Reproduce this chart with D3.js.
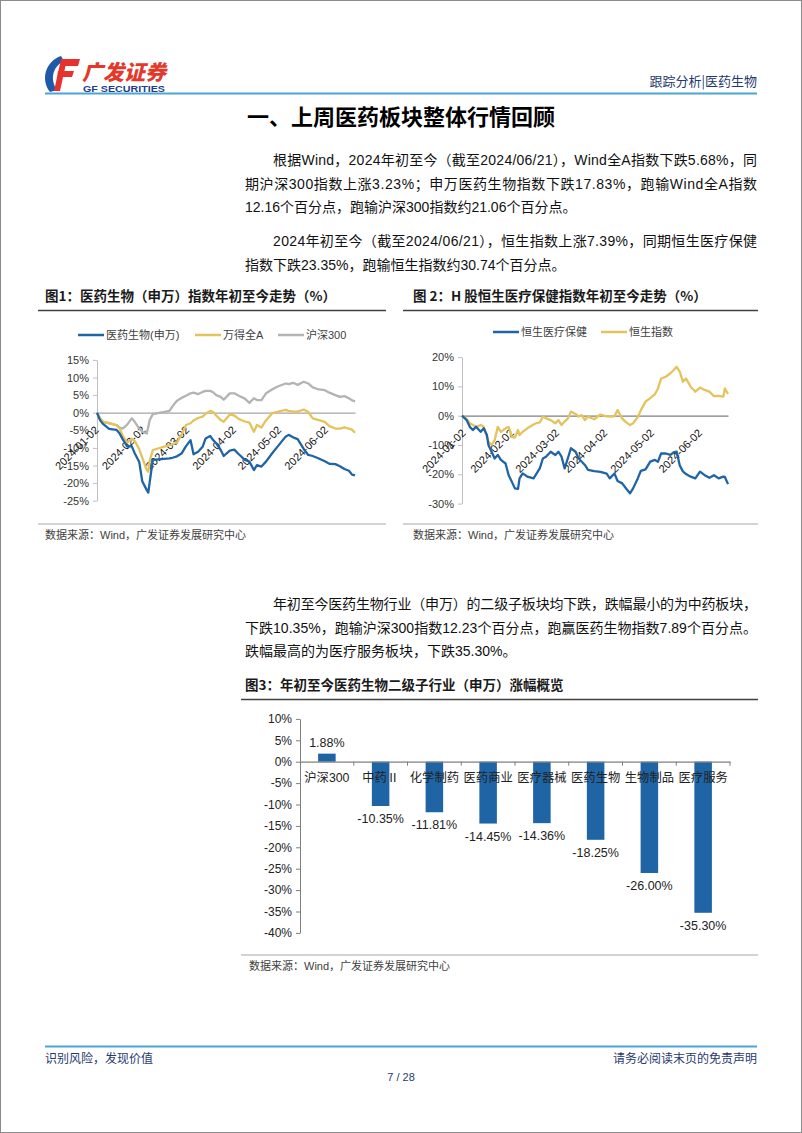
<!DOCTYPE html>
<html><head><meta charset="utf-8">
<script src="https://cdn.jsdelivr.net/npm/d3@7"></script>
<style>body{margin:0;background:#fff}svg{display:block}</style>
</head><body>
<svg id="page" width="802" height="1133"></svg>
<script>
// ---------------- DATA ----------------
// Figure 1: 申万医药生物 / 万得全A / 沪深300, YTD % change
const dates1 = ["2024-01-02","2024-01-04","2024-01-06","2024-01-10","2024-01-15","2024-01-17","2024-01-19","2024-01-22","2024-01-25","2024-01-27",
"2024-01-30","2024-02-01","2024-02-04","2024-02-05","2024-02-06","2024-02-08","2024-02-19","2024-02-21","2024-02-24","2024-02-27",
"2024-03-01","2024-03-04","2024-03-06","2024-03-09","2024-03-12","2024-03-14","2024-03-17","2024-03-19","2024-03-21","2024-03-24",
"2024-03-26","2024-03-30","2024-04-02","2024-04-05","2024-04-09","2024-04-12","2024-04-15","2024-04-17","2024-04-20","2024-04-23",
"2024-04-27","2024-04-30","2024-05-06","2024-05-08","2024-05-11","2024-05-14","2024-05-18","2024-05-21","2024-05-24","2024-05-28",
"2024-06-01","2024-06-04","2024-06-08","2024-06-11","2024-06-14","2024-06-17","2024-06-19","2024-06-21"];
const pharmaSW = [0,-2.1,-3.2,-4.6,-4.9,-5.9,-7.5,-9.6,-9.5,-11.5,
-14.0,-19.5,-22.0,-22.7,-19.5,-13.4,-13.0,-12.8,-12.4,-11.6,
-9.5,-7.8,-11.8,-11.1,-9.7,-7.3,-6.6,-7.8,-8.7,-10.6,
-12.3,-10.8,-10.5,-11.8,-13.4,-13.9,-16.3,-14.9,-15.3,-13.9,
-11.6,-10.0,-6.8,-6.3,-7.0,-7.5,-10.3,-12.0,-12.3,-13.0,
-13.8,-14.5,-14.6,-15.2,-16.0,-16.5,-17.6,-17.83];
const windA = [0,-1.6,-2.6,-2.9,-3.6,-4.5,-6.5,-8.5,-7.4,-8.0,
-10.4,-12.8,-16.3,-16.8,-13.5,-10.6,-9.2,-9.0,-8.5,-6.3,
-3.5,-3.0,-2.2,-1.5,-1.1,-0.3,0.5,0.2,-0.8,-2.1,
-2.6,-0.5,-0.8,-1.8,-2.5,-2.8,-5.4,-3.5,-4.2,-2.2,
-0.2,0.2,0.8,0.5,0.3,0.3,0.9,0.2,-1.6,-2.1,
-2.6,-3.8,-4.5,-4.5,-4.2,-4.5,-4.8,-5.68];
const csi300 = [0,-1.6,-2.6,-3.0,-3.5,-4.2,-4.5,-3.4,-1.6,-2.6,
-4.5,-5.4,-5.9,-4.0,-2.0,-0.4,0.5,1.8,3.4,4.2,
4.8,5.5,5.7,5.3,5.9,6.2,6.2,5.8,5.0,4.5,
3.7,5.5,5.5,4.8,4.0,2.8,4.1,3.6,3.6,5.5,
6.6,7.3,8.3,8.1,8.5,7.9,8.8,8.3,7.2,6.6,
6.4,5.7,5.0,4.5,4.7,4.1,3.5,3.23];
const names1 = ["医药生物(申万)","万得全A","沪深300"];
const yTicks1 = [15,10,5,0,-5,-10,-15,-20,-25];

// Figure 2: 恒生医疗保健 / 恒生指数
const dates2 = ["2024-01-02","2024-01-05","2024-01-07","2024-01-09","2024-01-11","2024-01-14","2024-01-16","2024-01-18","2024-01-19","2024-01-21",
"2024-01-23","2024-01-25","2024-01-27","2024-01-30","2024-02-01","2024-02-03","2024-02-05","2024-02-07","2024-02-08","2024-02-10",
"2024-02-13","2024-02-17","2024-02-19","2024-02-21","2024-02-23","2024-02-25","2024-02-28","2024-03-02","2024-03-04","2024-03-06",
"2024-03-08","2024-03-10","2024-03-12","2024-03-15","2024-03-17","2024-03-19","2024-03-21","2024-03-23","2024-03-27","2024-03-31",
"2024-04-04","2024-04-06","2024-04-09","2024-04-11","2024-04-14","2024-04-16","2024-04-19","2024-04-21","2024-04-24","2024-04-26",
"2024-04-29","2024-05-02","2024-05-05","2024-05-07","2024-05-09","2024-05-12","2024-05-15","2024-05-17","2024-05-19","2024-05-21",
"2024-05-23","2024-05-25","2024-05-28","2024-05-31","2024-06-03","2024-06-06","2024-06-09","2024-06-12","2024-06-15","2024-06-18",
"2024-06-19","2024-06-21"];
const hsHealth = [0,-1.5,-3.8,-4.9,-3.8,-5.5,-4.3,-6.6,-10.0,-12.3,
-14.6,-13.4,-15.1,-16.3,-20.3,-22.5,-24.8,-25.0,-21.4,-19.7,
-20.8,-21.4,-19.7,-18.0,-14.6,-14.0,-12.3,-13.4,-12.3,-14.0,
-18.0,-14.6,-11.1,-12.3,-14.6,-15.7,-16.8,-18.5,-18.9,-19.2,
-19.8,-21.4,-19.7,-22.3,-23.1,-24.5,-26.5,-24.8,-21.4,-18.8,
-18.3,-15.7,-15.1,-15.7,-12.9,-12.9,-13.4,-12.5,-12.3,-17.0,
-19.0,-19.9,-20.8,-21.4,-19.1,-20.3,-21.2,-20.3,-21.4,-20.8,
-20.9,-23.35];
const hsi = [0,-1.1,-2.6,-3.2,-3.8,-3.2,-3.8,-7.2,-8.9,-10.0,
-8.3,-3.8,-5.5,-4.3,-3.8,-7.2,-7.5,-4.9,-6.6,-5.5,
-4.3,-3.0,-2.5,-2.3,-0.3,-0.9,-1.5,-2.6,-1.5,-3.2,
-2.0,-1.0,1.4,0.6,-0.3,0.2,-1.5,-0.3,-1.2,0.4,
-0.2,-0.3,-0.2,1.9,-1.0,-2.0,-3.2,-2.6,-0.5,1.9,
4.8,6.0,7.3,9.3,12.7,13.3,14.5,15.5,16.7,15.0,
11.6,12.7,9.9,8.2,9.6,8.8,8.2,6.7,6.8,6.5,
9.3,7.39];
const names2 = ["恒生医疗保健","恒生指数"];
const yTicks2 = [20,10,0,-10,-20,-30];

const dateTicks = ["2024-01-02","2024-02-02","2024-03-02","2024-04-02","2024-05-02","2024-06-02"];

// Figure 3: 子行业涨幅
const categories3 = ["沪深300","中药Ⅱ","化学制药","医药商业","医疗器械","医药生物","生物制品","医疗服务"];
const values3 = [1.88,-10.35,-11.81,-14.45,-14.36,-18.25,-26.00,-35.30];
const yTicks3 = [10,5,0,-5,-10,-15,-20,-25,-30,-35,-40];

// Text
const para1 = ["根据Wind，2024年初至今（截至2024/06/21），Wind全A指数下跌5.68%，同",
"期沪深300指数上涨3.23%；申万医药生物指数下跌17.83%，跑输Wind全A指数",
"12.16个百分点，跑输沪深300指数约21.06个百分点。"];
const para2 = ["2024年初至今（截至2024/06/21），恒生指数上涨7.39%，同期恒生医疗保健",
"指数下跌23.35%，跑输恒生指数约30.74个百分点。"];
const para3 = ["年初至今医药生物行业（申万）的二级子板块均下跌，跌幅最小的为中药板块，",
"下跌10.35%，跑输沪深300指数12.23个百分点，跑赢医药生物指数7.89个百分点。",
"跌幅最高的为医疗服务板块，下跌35.30%。"];

// ---------------- DRAW ----------------
const FONT = "'Liberation Sans', Arial, 'Noto Sans CJK SC', sans-serif";
const CJK = "'Noto Sans CJK SC', 'Liberation Sans', sans-serif";
const svg = d3.select("#page");
const parse = d3.timeParse("%Y-%m-%d");
const BLUE = "#1f65a6", GOLD = "#e5c35c", GREY = "#b3b3b3", NAVY = "#1f3a6e", LINEBLUE = "#4aa6d6";

svg.append("rect").attr("x",0.5).attr("y",0.5).attr("width",801).attr("height",1132)
  .attr("fill","#fff").attr("stroke","#8c8c8c");

// header
const logo = svg.append("g");
logo.append("path").attr("d","M61,56 C46,61 40,79 50,92 L57,90 C50,80 52,67 64,61 Z").attr("fill","#1e5aa8");
logo.append("path").attr("d","M61,59 L80,59 L78,66 L60,66 Z M58,71 L74,71 L72,77 L57,77 Z M61,59 L67,59 L60,91 L54,91 Z").attr("fill","#e5322d");
logo.append("text").attr("x",82).attr("y",80).attr("font-family",CJK).attr("font-weight",900)
  .attr("font-size",21).attr("fill","#e3392b").attr("font-style","italic").text("广发证券");
logo.append("text").attr("x",83).attr("y",92).attr("font-family",FONT).attr("font-weight",700)
  .attr("font-size",9).attr("fill","#1d3f8a").attr("textLength",82).attr("lengthAdjust","spacingAndGlyphs").text("GF SECURITIES");
svg.append("text").attr("x",757).attr("y",86).attr("text-anchor","end").attr("font-family",CJK)
  .attr("font-size",13).attr("fill",NAVY).text("跟踪分析|医药生物");
svg.append("line").attr("x1",45).attr("x2",757).attr("y1",93.5).attr("y2",93.5).attr("stroke",LINEBLUE).attr("stroke-width",2);

// section title
svg.append("text").attr("x",401).attr("y",125).attr("text-anchor","middle").attr("font-family",CJK)
  .attr("font-weight",700).attr("font-size",22).attr("fill","#000").text("一、上周医药板块整体行情回顾");

function paragraph(lines, y0, step){
  lines.forEach((t,i)=>{
    const x = i===0 ? 273 : 245;
    const tx = svg.append("text").attr("x",x).attr("y",y0+i*step).attr("font-family",FONT)
      .attr("font-size",14).attr("fill","#111").text(t);
    if(i < lines.length-1){ tx.attr("textLength",757-x).attr("lengthAdjust","spacing"); }
  });
}
paragraph(para1,165,23.5);
paragraph(para2,246,24);
paragraph(para3,609,23.5);

function figTitle(t,x,y,x1,x2){
  svg.append("text").attr("x",x).attr("y",y).attr("font-family",CJK).attr("font-weight",700)
    .attr("font-size",13.5).attr("fill","#1a1a1a").text(t);
  svg.append("line").attr("x1",x1).attr("x2",x2).attr("y1",y+9.5).attr("y2",y+9.5).attr("stroke","#404040").attr("stroke-width",1.5);
}
function source(x,y,x1,x2){
  svg.append("line").attr("x1",x1).attr("x2",x2).attr("y1",y-15).attr("y2",y-15).attr("stroke","#a6a6a6").attr("stroke-width",1);
  svg.append("text").attr("x",x).attr("y",y).attr("font-family",FONT).attr("font-size",11)
    .attr("fill","#404040").text("数据来源：Wind，广发证券发展研究中心");
}
figTitle("图1：医药生物（申万）指数年初至今走势（%）",45,301,38,386);
figTitle("图 2：H 股恒生医疗保健指数年初至今走势（%）",413,301,403,758);
figTitle("图3：年初至今医药生物二级子行业（申万）涨幅概览",245,690,241,758);
source(45,539,38,386);
source(413,539,403,758);
source(249,970,241,758);

function legend(items, y){
  items.forEach(it=>{
    svg.append("line").attr("x1",it.x).attr("x2",it.x+26).attr("y1",y).attr("y2",y)
      .attr("stroke",it.color).attr("stroke-width",2.5);
    svg.append("text").attr("x",it.x+28).attr("y",y+4).attr("font-family",FONT).attr("font-size",11)
      .attr("fill","#404040").text(it.name);
  });
}

function lineChart(cfg){
  const g = svg.append("g");
  const x = d3.scaleTime().domain([parse(cfg.dates[0]), parse(cfg.dates[cfg.dates.length-1])]).range(cfg.xr);
  const y = d3.scaleLinear().domain(cfg.yd).range(cfg.yr);
  // y axis
  const ya = g.append("g").attr("transform",`translate(${cfg.xr[0]},0)`)
    .call(d3.axisLeft(y).tickValues(cfg.yTicks).tickSize(4).tickSizeOuter(0).tickPadding(4).tickFormat(d=>d+"%"));
  ya.select(".domain").attr("stroke","#bfbfbf");
  ya.selectAll(".tick line").attr("stroke","#bfbfbf");
  ya.selectAll("text").attr("font-family",FONT).attr("font-size",11).attr("fill","#333");
  // x axis at zero
  const xa = g.append("g").attr("transform",`translate(0,${y(0)})`)
    .call(d3.axisBottom(x).tickValues(dateTicks.map(parse)).tickSize(0).tickSizeOuter(0).tickFormat(d3.timeFormat("%Y-%m-%d")));
  xa.select(".domain").attr("stroke",cfg.zeroColor).attr("stroke-width",1.2);
  xa.selectAll("text").attr("font-family",FONT).attr("font-size",11).attr("fill","#111")
    .attr("text-anchor","end").attr("y",0).attr("dy",0)
    .attr("transform",`translate(${cfg.lab[0]},${cfg.lab[1]}) rotate(-45)`);
  // lines
  const line = d3.line().x((d,i)=>x(parse(cfg.dates[i]))).y(d=>y(d));
  cfg.series.forEach(s=>{
    g.append("path").datum(s.values).attr("d",line).attr("fill","none")
      .attr("stroke",s.color).attr("stroke-width",2.3).attr("stroke-linejoin","round");
  });
}

legend([{x:78,color:BLUE,name:names1[0]},{x:195,color:GOLD,name:names1[1]},{x:278,color:GREY,name:names1[2]}],335);
lineChart({dates:dates1, xr:[97,355], yd:[-25,15], yr:[500.7,359.9], yTicks:yTicks1, zeroColor:"#a6a6a6",
  lab:[2,18],
  series:[{values:csi300,color:GREY},{values:windA,color:GOLD},{values:pharmaSW,color:BLUE}]});

legend([{x:493,color:BLUE,name:names2[0]},{x:601,color:GOLD,name:names2[1]}],332);
lineChart({dates:dates2, xr:[462,728], yd:[-30,20], yr:[503.6,357.1], yTicks:yTicks2, zeroColor:"#7f7f7f",
  lab:[4,18],
  series:[{values:hsi,color:GOLD},{values:hsHealth,color:BLUE}]});

// bar chart
(function(){
  const g = svg.append("g");
  const x = d3.scaleBand().domain(categories3).range([300,730]).paddingInner(0.674).paddingOuter(0.337);
  const y = d3.scaleLinear().domain([-40,10]).range([932.9,718.9]);
  const ya = g.append("g").attr("transform","translate(300,0)")
    .call(d3.axisLeft(y).tickValues(yTicks3).tickSize(4).tickSizeOuter(0).tickPadding(4).tickFormat(d=>d+"%"));
  ya.select(".domain").attr("stroke","#7f7f7f");
  ya.selectAll(".tick line").attr("stroke","#7f7f7f");
  ya.selectAll("text").attr("font-family",FONT).attr("font-size",12).attr("fill","#222");
  g.selectAll("rect.bar").data(values3).join("rect").attr("class","bar")
    .attr("x",(d,i)=>x(categories3[i])).attr("width",x.bandwidth())
    .attr("y",d=>y(Math.max(0,d))).attr("height",d=>Math.abs(y(d)-y(0)))
    .attr("fill",BLUE);
  // x axis at zero with boundary ticks
  const step = x.step();
  const xa = g.append("g").attr("transform",`translate(0,${y(0)})`)
    .call(d3.axisBottom(x).tickSize(0).tickSizeOuter(0).tickPadding(12));
  xa.select(".domain").attr("stroke","#7f7f7f").attr("stroke-width",1.2);
  xa.selectAll("text").attr("font-family",FONT).attr("font-size",12.3).attr("fill","#222");
  categories3.forEach(c=>{
    xa.append("line").attr("x1",x(c)+x.bandwidth()/2+step/2).attr("x2",x(c)+x.bandwidth()/2+step/2)
      .attr("y1",0).attr("y2",4).attr("stroke","#7f7f7f");
  });
  g.selectAll("text.val").data(values3).join("text").attr("class","val")
    .attr("x",(d,i)=>x(categories3[i])+x.bandwidth()/2)
    .attr("y",d=> d>=0 ? y(d)-7 : y(d)+17)
    .attr("text-anchor","middle").attr("font-family",FONT).attr("font-size",12.5).attr("fill","#222")
    .text(d=>d.toFixed(2)+"%");
})();

// footer
svg.append("line").attr("x1",45).attr("x2",757).attr("y1",1046.5).attr("y2",1046.5).attr("stroke",LINEBLUE).attr("stroke-width",2);
svg.append("text").attr("x",45).attr("y",1063).attr("font-family",CJK).attr("font-size",12).attr("fill",NAVY).text("识别风险，发现价值");
svg.append("text").attr("x",757).attr("y",1063).attr("text-anchor","end").attr("font-family",CJK).attr("font-size",12).attr("fill",NAVY).text("请务必阅读末页的免责声明");
svg.append("text").attr("x",401).attr("y",1081).attr("text-anchor","middle").attr("font-family",FONT).attr("font-size",11).attr("fill",NAVY).text("7 / 28");
</script>
</body></html>
